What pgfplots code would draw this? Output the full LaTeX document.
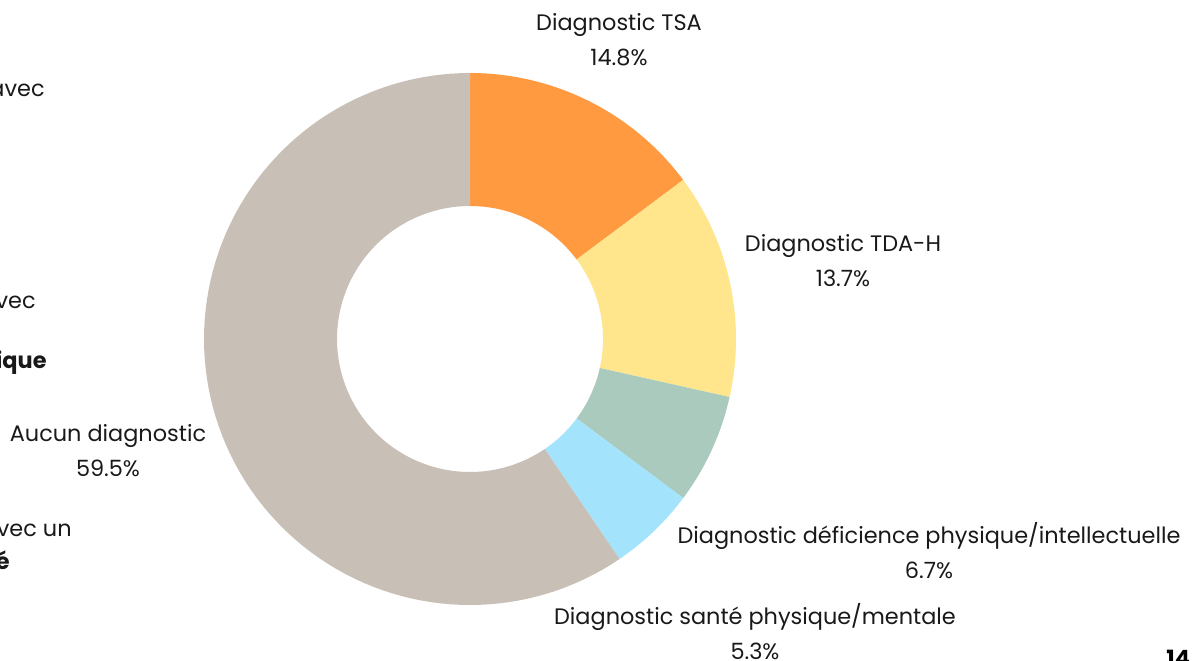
\documentclass[border=0pt]{standalone}
\usepackage{pgfplots}
\pgfplotsset{compat=1.18}
\usepackage{fontspec}
\setmainfont{Poppins}
\definecolor{cTSA}{HTML}{FF9A40}
\definecolor{cTDA}{HTML}{FFE68C}
\definecolor{cDEF}{HTML}{A9CABD}
\definecolor{cSAN}{HTML}{A3E4FC}
\definecolor{cAUC}{HTML}{C8BFB6}
% values (percent), clockwise from the top
\def\vTSA{14.8}
\def\vTDA{13.7}
\def\vDEF{6.7}
\def\vSAN{5.3}
\def\vAUC{59.5}
\newcommand{\slice}[3]{% start angle, end angle, colour
  \addplot[draw=none, fill=#3, domain=0:2, samples=201]
  ({470 + ((x<=1.005) ? 266 : 133)*cos((x<=1.005) ? (#1+(#2-#1)*x) : (#2-(#2-#1)*(x-1.01)/0.99))},
   {321 + ((x<=1.005) ? 266 : 133)*sin((x<=1.005) ? (#1+(#2-#1)*x) : (#2-(#2-#1)*(x-1.01)/0.99))});
}
\begin{document}
\begin{tikzpicture}
\begin{axis}[x=0.5pt, y=0.5pt, xmin=0, xmax=1199, ymin=0, ymax=660,
  hide axis, clip=false, scale only axis]
\coordinate (SW) at (axis cs:0,0);
\coordinate (NE) at (axis cs:1199,660);
\pgfmathsetmacro{\aA}{90}
\pgfmathsetmacro{\aB}{\aA-3.6*\vTSA}
\pgfmathsetmacro{\aC}{\aB-3.6*\vTDA}
\pgfmathsetmacro{\aD}{\aC-3.6*\vDEF}
\pgfmathsetmacro{\aE}{\aD-3.6*\vSAN}
\pgfmathsetmacro{\aF}{\aE-3.6*\vAUC}
\slice{\aA}{\aB}{cTSA}
\slice{\aB}{\aC}{cTDA}
\slice{\aC}{\aD}{cDEF}
\slice{\aD}{\aE}{cSAN}
\slice{\aE}{\aF}{cAUC}
\tikzset{lab/.style={align=center, font=\fontsize{11.2}{17.5}\selectfont, text=black!90}}
\node[lab] at (axis cs:619,620.5) {Diagnostic TSA\\\vTSA\%};
\node[lab] at (axis cs:843,399.5) {Diagnostic TDA-H\\\vTDA\%};
\node[lab] at (axis cs:929,109) {Diagnostic déficience physique/intellectuelle\\\vDEF\%};
\node[lab] at (axis cs:755,28) {Diagnostic santé physique/mentale\\\vSAN\%};
\node[lab] at (axis cs:108,209.5) {Aucun diagnostic\\\vAUC\%};
\tikzset{frag/.style={anchor=east, inner sep=0pt, text=black!90, font=\fontsize{11.2}{12}\selectfont}}
\node[frag] at (axis cs:45,570) {avec};
\node[frag] at (axis cs:36,358) {vec};
\node[frag, font=\fontsize{11.2}{12}\selectfont\bfseries] at (axis cs:47,297) {ique};
\node[frag] at (axis cs:72,130) {vec un};
\node[frag, font=\fontsize{11.2}{12}\selectfont\bfseries] at (axis cs:10,100) {é};
\node[anchor=west, inner sep=0pt, font=\fontsize{11.2}{12}\selectfont\bfseries] at (axis cs:1166,2) {14};
\end{axis}
\pgfresetboundingbox
\path[use as bounding box] (SW) rectangle (NE);
\end{tikzpicture}
\end{document}
